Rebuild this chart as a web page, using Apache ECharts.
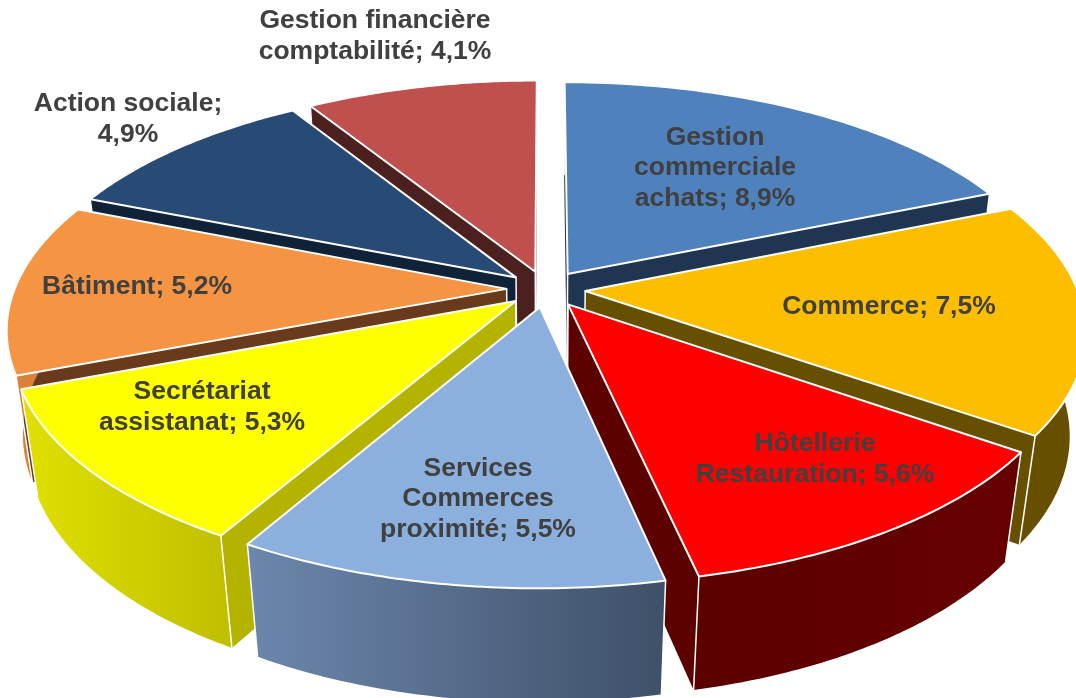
<!DOCTYPE html>
<html>
<head>
<meta charset="utf-8">
<title>Secteurs</title>
<script src="https://cdn.jsdelivr.net/npm/echarts@6/dist/echarts.min.js"></script>
<style>
  html, body { margin: 0; padding: 0; background: #fff; }
  #chart { width: 1076px; height: 698px; }
</style>
</head>
<body>
<div id="chart"></div>
<script>
const categories = [
  'Gestion\ncommerciale\nachats', 'Commerce', 'Hôtellerie\nRestauration', 'Services\nCommerces\nproximité',
  'Secrétariat\nassistanat', 'Bâtiment', 'Action sociale;\n', 'Gestion financière\ncomptabilité'
]
const percents = [8.9, 7.5, 5.6, 5.5, 5.3, 5.2, 4.9, 4.1]
// angle of each slice in degrees (they are not proportional to the printed percents)
const sliceAngles = [67.5, 57.5, 42.7, 42.3, 39, 42.7, 36.3, 32]
// back slices first, so the nearer ones cover their walls
const paintOrder = [7, 0, 6, 1, 5, 2, 4, 3]

const topColors = ['#4f81bd', '#fdbe00', '#ff0000', '#8cb0de', '#ffff00', '#f59443', '#284b75', '#c0504d']
const wallColors = ['#1f3552', '#665000', '#5c0000', '#4d6483', '#b3b300', '#6a3a1c', '#0f2238', '#4d2020']
const rimStart = ['#1f3552', '#665000', '#5c0000', '#6c87ad', '#e0e000', '#d9813a', '#0f2238', '#4d2020']
const rimEnd = ['#1f3552', '#665000', '#660000', '#3f5068', '#bfbf00', '#d9813a', '#0f2238', '#4d2020']

const labelAnchors = [
  [715, 168], [889, 307], [815, 459], [478, 499], [202, 407], [137, 287], [128, 119], [375, 36]
]

// pie plane → screen
const centerX = 546, centerY = 289
const radiusX = 492, radiusY = 228, wallDepth = 106
const perspective = 0.165, depthShrink = 0.03, explode = 0.08

const project = (X, Y, low) => {
  const w = 1 - perspective * Y + (low ? depthShrink : 0)
  return [centerX + radiusX * X / w, centerY + (radiusY * Y + (low ? wallDepth : 0)) / w]
}

const renderSlice = (params, api) => {
  const idx = api.value(0)
  const start = api.value(1) * Math.PI / 180
  const sweep = api.value(2) * Math.PI / 180
  const mid = start + sweep / 2
  const ox = explode * Math.sin(mid)
  const oy = -explode * Math.cos(mid)
  const at = (a, low) => project(ox + Math.sin(a), oy - Math.cos(a), low)

  const arcTop = [], arcLow = []
  for (let i = 0; i <= 60; i++) {
    const a = start + sweep * i / 60
    arcTop.push(at(a, false))
    arcLow.push(at(a, true))
  }
  const apexTop = project(ox, oy, false)
  const apexLow = project(ox, oy, true)
  const first = 0, last = arcTop.length - 1

  const flat = { fill: wallColors[idx] }
  const rimFill = new echarts.graphic.LinearGradient(0, 0, 1, 0, [
    { offset: 0, color: rimStart[idx] },
    { offset: 1, color: rimEnd[idx] }
  ])
  const edge = { stroke: '#fff', lineWidth: 1.5 }
  const line = (a, b) => ({
    type: 'line',
    shape: { x1: a[0], y1: a[1], x2: b[0], y2: b[1] },
    style: edge
  })

  return {
    type: 'group',
    children: [
      { type: 'polygon', shape: { points: [apexTop, arcTop[first], arcLow[first], apexLow] }, style: flat },
      { type: 'polygon', shape: { points: [apexTop, arcTop[last], arcLow[last], apexLow] }, style: flat },
      line(apexTop, apexLow),
      { type: 'polygon', shape: { points: arcTop.concat(arcLow.slice().reverse()) }, style: { fill: rimFill } },
      line(arcTop[first], arcLow[first]),
      line(arcTop[last], arcLow[last]),
      {
        type: 'polygon',
        shape: { points: [apexTop].concat(arcTop) },
        style: { fill: topColors[idx], stroke: '#fff', lineWidth: 2, lineJoin: 'round' }
      }
    ]
  }
}

const startAngles = sliceAngles.map((_, i) => sliceAngles.slice(0, i).reduce((s, v) => s + v, 0))
const sliceData = paintOrder.map((i) => [i, startAngles[i], sliceAngles[i]])

const labelText = (i) => {
  const pct = percents[i].toFixed(1).replace('.', ',') + '%'
  return categories[i].endsWith('\n') ? categories[i].slice(0, -1) + '\n' + pct : categories[i] + '; ' + pct
}

const chart = echarts.init(document.getElementById('chart'), null, { renderer: 'canvas' })
chart.setOption({
  animation: false,
  backgroundColor: '#fff',
  series: [{
    type: 'custom',
    coordinateSystem: 'none',
    renderItem: renderSlice,
    data: sliceData,
    clip: false,
    silent: true
  }],
  graphic: categories.map((_, i) => ({
    type: 'text',
    x: labelAnchors[i][0],
    y: labelAnchors[i][1],
    z: 100,
    silent: true,
    style: {
      text: labelText(i),
      fill: '#404040',
      font: 'bold 26.5px "Liberation Sans", Arial, sans-serif',
      lineHeight: 30.5,
      textAlign: 'center',
      textVerticalAlign: 'middle'
    }
  }))
})
</script>
</body>
</html>
